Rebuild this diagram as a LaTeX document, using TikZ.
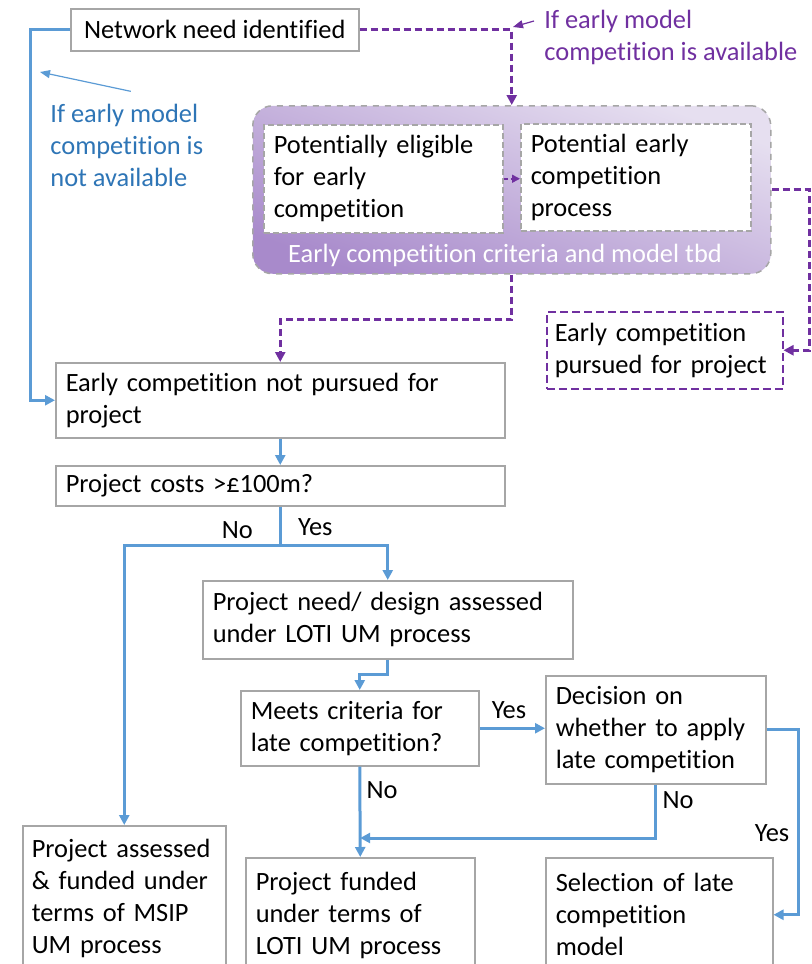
\documentclass[tikz,border=0pt]{standalone}
\usepackage{fontspec}
\setmainfont{Carlito}[Ligatures=NoCommon]
\usetikzlibrary{arrows.meta, calc}
\definecolor{lineblue}{HTML}{5B9BD5}
\definecolor{textblue}{HTML}{2E75B6}
\definecolor{purp}{HTML}{7030A0}
\definecolor{boxgray}{HTML}{A6A6A6}
\definecolor{lilaclight}{HTML}{E6DFF0}
\definecolor{lilacdark}{HTML}{A88ACB}
\tikzstyle{box} = [rectangle, draw=boxgray, line width=0.75pt, fill=white, anchor=north west, align=left, inner xsep=5pt, inner ysep=0pt, font=\fontsize{13.2}{16}\selectfont]
\tikzstyle{dashbox} = [box, dashed, dash pattern=on 3pt off 1.5pt]
\tikzstyle{groupbox} = [rectangle, rounded corners=10pt, draw=boxgray, dashed, line width=0.75pt, anchor=north west, top color=lilaclight, bottom color=lilacdark, shading angle=-20]
\tikzstyle{pursuedbox} = [box, draw=purp, dashed, dash pattern=on 4pt off 2pt]
\tikzstyle{note} = [align=left, inner sep=0pt, font=\fontsize{13.2}{16}\selectfont]
\tikzstyle{arrow} = [draw=lineblue, line width=1.5pt, -{Triangle[length=5pt,width=5pt]}]
\tikzstyle{thinarrow} = [draw=lineblue, line width=0.6pt, -{Triangle[length=5pt,width=4pt]}]
\tikzstyle{parrow} = [draw=purp, line width=1.5pt, dash pattern=on 3.5pt off 2pt, -{Triangle[length=5pt,width=5pt]}]
\tikzstyle{thinparrow} = [draw=purp, line width=0.6pt, -{Triangle[length=5pt,width=4pt]}]
\begin{document}
\begin{tikzpicture}[x=0.5pt, y=-0.5pt]
	\useasboundingbox (0,0) rectangle (812,964);
	\clip (0,0) rectangle (812,964);

	\node (need) [box, minimum width=144pt, minimum height=21pt] at (70,8) {Network need identified};
	\node (notavail) [note, text=textblue, anchor=west] at (50,145) {If early model\\competition is\\not available};
	\node (avail) [note, text=purp, anchor=west] at (544,37) {If early model\\competition is available};
	\coordinate (notavailtip) at (40,72);
	\coordinate (availtip) at (513,27);

	\node (group) [groupbox, minimum width=259pt, minimum height=84pt] at (252,105) {};
	\node (elig) [dashbox, text width=109.5pt, minimum height=54pt] at (263,124) {Potentially eligible\\for early\\competition};
	\node (proc) [dashbox, text width=105pt, minimum height=53.5pt] at (520,123) {Potential early\\competition\\process};
	\node (tbd) [note, text=white] at (505,255) {Early competition criteria and model tbd};
	\node (pursued) [pursuedbox, inner xsep=4pt, text width=110pt, minimum height=38.5pt] at (546,311) {Early competition\\pursued for project};

	\draw [parrow] (need.east) -| (group.north);
	\draw [thinparrow] ([xshift=-5pt,yshift=8pt]avail.west) -- (availtip);
	\draw [thinarrow] ([xshift=2pt,yshift=6pt]notavail.north) -- (notavailtip);
	\draw [parrow, line width=0.75pt, dash pattern=on 2pt off 1.5pt, -{Triangle[length=4pt,width=4pt]}] (elig.east) -- (proc.west |- elig.east);

	\node (notpursued) [box, text width=214.5pt, minimum height=37.5pt] at (55,362) {Early competition not pursued for\\project};
	\node (costs) [box, text width=214.5pt, minimum height=20pt] at (55,465) {Project costs >£100m?};

	\draw [arrow] (need.west) -- ++(-40,0) |- (notpursued.west);
	\draw [parrow] (group.south) -- ++(0,45) -| (notpursued.north);
	\draw [parrow] (group.east) -- ++(38,0) |- (pursued.east);
	\draw [arrow] (notpursued) -- (costs);

	\node (design) [box, text width=175pt, minimum height=39pt] at (202,580) {Project need/ design assessed\\under LOTI UM process};
	\node (meets) [box, text width=109pt, minimum height=37.5pt] at (240,690) {Meets criteria for\\late competition?};
	\node (decision) [box, text width=100pt, minimum height=54pt] at (545,675) {Decision on\\whether to apply\\late competition};
	\node (msip) [box, inner xsep=4.5pt, text width=92.5pt, minimum height=73pt] at (22,825) {Project assessed\\\& funded under\\terms of MSIP\\UM process};
	\node (loti) [box, text width=104.5pt, minimum height=58pt] at (245,857) {Project funded\\under terms of\\LOTI UM process};
	\node (late) [box, text width=103.5pt, minimum height=57pt] at (545,857) {Selection of late\\competition\\model};

	\draw [draw=lineblue, line width=1.5pt] (costs.south) -- ++(0,39) coordinate (split);
	\draw [arrow] (split) -| (msip.north);
	\draw [arrow] (split) -| (design.north);
	\node (no1) [note] at ([shift={(-43,-15)}]split) {No};
	\node (yes1) [note] at ([shift={(35,-18)}]split) {Yes};

	\draw [arrow] (design.south) -- ++(0,15) -| (meets.north);
	\draw [arrow] (meets.east) -- (meets.east -| decision.west) node[note, pos=0.45, above=4pt] {Yes};
	\draw [arrow] (meets.south) -- (loti.north);
	\node (no2) [note] at (382,790) {No};
	\coordinate (join) at ($(meets.south)!0.79!(loti.north)$);
	\draw [arrow] (decision.south) |- (join);
	\node (no3) [note] at (678,800) {No};
	\draw [arrow] (decision.east) -- ++(32,0) |- (late.east);
	\node (yes2) [note] at (772,833) {Yes};
\end{tikzpicture}
\end{document}
